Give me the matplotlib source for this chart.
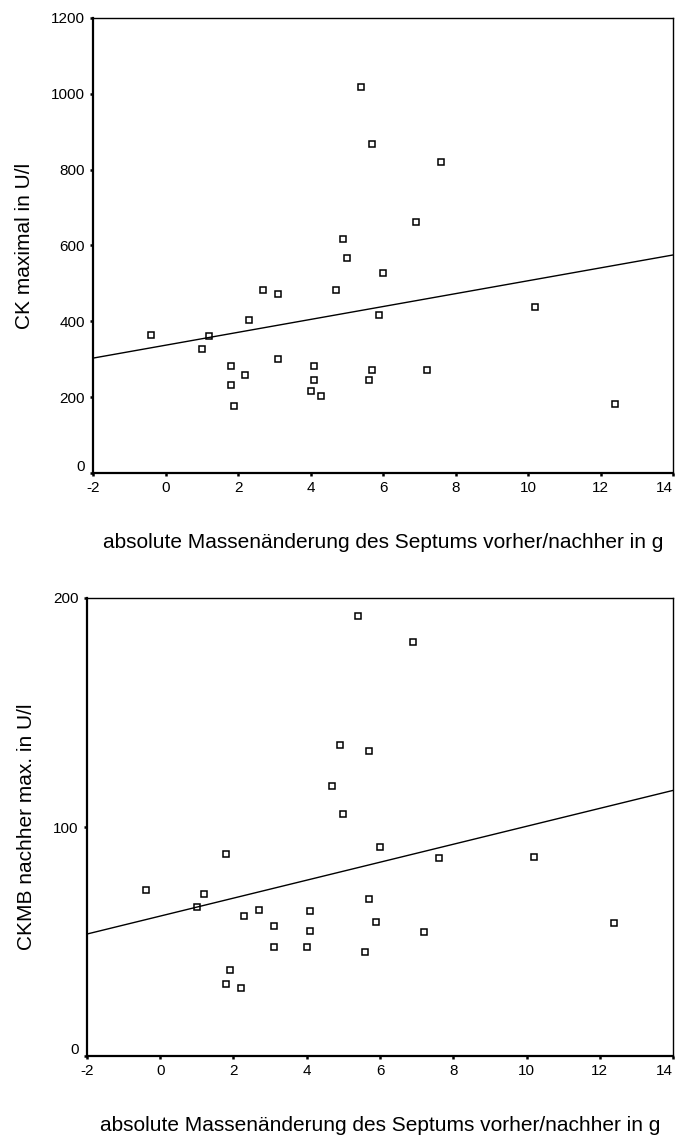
import numpy as np
import matplotlib
matplotlib.use('Agg')
import matplotlib.pyplot as plt
import matplotlib.transforms as mtrans

plt.rcParams['font.family'] = ['Liberation Sans', 'DejaVu Sans']
plt.rcParams['axes.unicode_minus'] = False

# top panel: CK maximal
ck_x = [-0.4, 1.0, 1.2, 1.8, 1.8, 1.9, 2.2, 2.3, 2.7, 3.1, 3.1, 4.1, 4.1, 4.0, 4.3,
        4.7, 4.9, 5.0, 5.4, 5.7, 5.7, 5.6, 5.9, 6.0, 6.9, 7.2, 7.6, 10.2, 12.4]
ck_y = [364, 328, 361, 281, 233, 178, 258, 404, 483, 471, 300, 281, 245, 217, 202,
        483, 617, 566, 1018, 867, 272, 245, 416, 527, 661, 272, 819, 439, 182]

# bottom panel: CKMB nachher max.
ckmb_x = [1.8, -0.4, 1.2, 1.0, 2.3, 2.7, 3.1, 3.1, 4.1, 4.1, 4.0, 5.7, 5.9, 5.6,
          6.0, 7.6, 7.2, 10.2, 12.4, 1.9, 1.8, 2.2, 5.4, 6.9, 4.9, 5.7, 4.7, 5.0]
ckmb_y = [88.3, 72.5, 70.6, 65.2, 61.3, 63.9, 56.6, 47.5, 63.3, 54.7, 47.5, 68.6,
          58.7, 45.4, 91.1, 86.5, 54.0, 87.0, 58.1, 37.6, 31.6, 29.7, 192.1, 180.8,
          136.0, 133.2, 118.0, 105.5]

xlabel = 'absolute Massenänderung des Septums vorher/nachher in g'
xticks = [-2, 0, 2, 4, 6, 8, 10, 12, 14]


def panel(fig, ax, x, y, ylim, yticks, ylabel):
    x = np.array(x)
    y = np.array(y)
    ax.plot(x, y, ls='none', marker='s', ms=5, mfc='white', mec='black', mew=1.1)
    # linear fit
    slope, icpt = np.polyfit(x, y, 1)
    xl = np.array([-2, 14])
    ax.plot(xl, icpt + slope * xl, color='black', lw=1)
    ax.set_xlim(-2, 14)
    ax.set_ylim(*ylim)
    ax.set_xticks(xticks)
    ax.set_yticks(yticks)
    ax.tick_params(direction='out', length=2.5, width=1.8, labelsize=11, pad=3.5)
    for s in ['left', 'bottom']:
        ax.spines[s].set_linewidth(1.6)
    for s in ['top', 'right']:
        ax.spines[s].set_linewidth(1.0)
    ax.set_xlabel(xlabel, fontsize=15, labelpad=27)
    ax.set_ylabel(ylabel, fontsize=15, labelpad=12)
    # last x label sits inside the figure, "0" on y raised a bit
    ax.get_xticklabels()[-1].set_horizontalalignment('right')
    lab0 = ax.get_yticklabels()[0]
    lab0.set_transform(lab0.get_transform() +
                       mtrans.ScaledTranslation(0, 0.08, fig.dpi_scale_trans))


fig = plt.figure(figsize=(6.77, 11.36), dpi=100)
ax1 = fig.add_axes([0.1374, 0.5836, 0.8567, 0.4006])
panel(fig, ax1, ck_x, ck_y, (0, 1200), [0, 200, 400, 600, 800, 1000, 1200], 'CK maximal in U/l')

ax2 = fig.add_axes([0.1285, 0.0704, 0.8656, 0.4032])
panel(fig, ax2, ckmb_x, ckmb_y, (0, 200), [0, 100, 200], 'CKMB nachher max. in U/l')

fig.savefig('out.png', dpi=100)
